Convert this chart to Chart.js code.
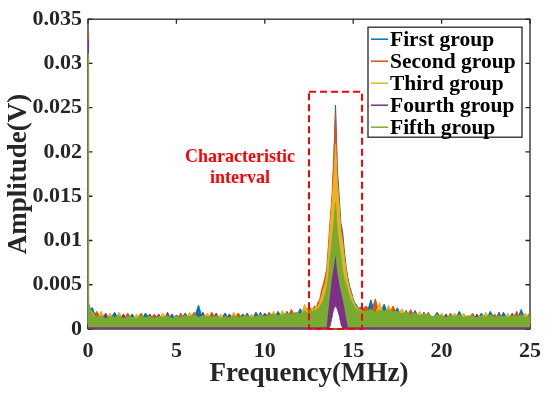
<!DOCTYPE html>
<html>
<head>
    <title>Amplitude spectrum</title>
    <script src="https://cdn.jsdelivr.net/npm/chart.js"></script>
    <style>
        html, body { margin: 0; padding: 0; background: #fff; }
    </style>
</head>
<body>
    <canvas id="spectrum" width="550" height="396"></canvas>
    <script>
        // Frequency grid (MHz), finer around the 14 MHz peak
        const freq = [
            0, 0.03, 0.25, 0.5, 0.75, 1, 1.25, 1.5, 1.75, 2, 2.25, 2.5, 2.75, 3, 3.25, 3.5, 3.75, 4, 4.25, 4.5,
            4.75, 5, 5.25, 5.5, 5.75, 6, 6.25, 6.5, 6.75, 7, 7.25, 7.5, 7.75, 8, 8.25, 8.5, 8.75, 9, 9.25, 9.5,
            9.75, 10, 10.25, 10.5, 10.75, 11, 11.25, 11.5, 11.75, 12, 12.25, 12.5,
            12.6, 12.7, 12.8, 12.9, 13, 13.1, 13.2, 13.3, 13.4, 13.5, 13.6, 13.7, 13.8, 13.9, 14, 14.1, 14.2, 14.3,
            14.4, 14.5, 14.6, 14.7, 14.8, 14.9, 15, 15.1, 15.2, 15.3, 15.4, 15.5,
            15.75, 16, 16.25, 16.5, 16.75, 17, 17.25, 17.5, 17.75, 18, 18.25, 18.5, 18.75, 19, 19.25, 19.5, 19.75,
            20, 20.25, 20.5, 20.75, 21, 21.25, 21.5, 21.75, 22, 22.25, 22.5, 22.75, 23, 23.25, 23.5, 23.75, 24,
            24.25, 24.5, 24.75, 25
        ];

        // Upper envelope of each group (mV)
        const firstGroup = [
            29.0, 2.2, 2.4, 1.0, 1.1, 0.9, 1.0, 1.9, 1.1, 0.9, 1.0, 1.7, 0.9, 1.0, 1.8, 1.1, 0.9, 1.0, 1.1, 0.9,
            1.7, 1.0, 1.1, 1.8, 1.0, 1.2, 2.7, 1.0, 1.1, 0.9, 1.0, 1.1, 1.8, 1.0, 0.9, 1.1, 1.7, 1.2, 1.0, 1.9,
            1.1, 1.8, 1.2, 1.1, 2.0, 1.2, 1.1, 1.3, 1.2, 2.3, 1.4, 1.3,
            1.8, 2.2, 1.9, 2.4, 2.1, 2.6, 3.0, 3.6, 4.4, 5.5, 8.0, 11.0, 14.0, 18.5, 25.3, 18.2, 15.2, 12.0,
            11.0, 8.8, 7.0, 5.8, 4.8, 4.2, 3.4, 2.9, 2.7, 2.2, 2.5, 2.1,
            1.6, 3.3, 1.5, 1.7, 2.8, 1.6, 1.5, 2.4, 1.3, 1.4, 1.2, 2.1, 1.1, 1.2, 1.0, 1.1, 1.9,
            1.0, 1.1, 0.9, 1.0, 2.0, 1.0, 0.9, 1.1, 1.0, 1.8, 0.9, 2.0, 1.1, 0.9, 1.9, 1.0, 1.1,
            0.9, 2.2, 1.0, 1.1
        ];
        const secondGroup = [
            33.7, 3.0, 1.2, 2.0, 1.0, 1.1, 0.9, 1.0, 1.1, 1.0, 1.8, 0.9, 1.0, 1.8, 0.9, 1.0, 1.7, 1.1, 0.9, 1.0,
            1.1, 1.0, 1.8, 0.9, 1.1, 1.9, 1.2, 1.0, 0.9, 1.9, 1.1, 1.0, 0.9, 1.1, 1.0, 1.8, 1.1, 1.0, 0.9, 1.2,
            1.0, 1.1, 1.9, 1.2, 1.1, 1.3, 1.2, 2.2, 1.3, 1.2, 1.5, 2.6,
            2.3, 2.0, 2.6, 2.2, 3.0, 3.3, 4.3, 5.0, 5.8, 6.8, 9.5, 12.5, 15.0, 19.5, 24.4, 17.5, 14.5, 11.5,
            10.2, 8.2, 6.5, 5.3, 4.4, 3.7, 3.1, 2.6, 2.3, 2.4, 2.0, 2.2,
            2.6, 1.7, 3.4, 1.6, 1.7, 1.5, 2.6, 1.6, 1.4, 1.3, 2.2, 1.2, 1.1, 1.2, 1.9, 1.0, 1.1,
            1.0, 0.9, 1.8, 1.0, 1.1, 0.9, 1.0, 1.8, 0.9, 1.0, 1.1, 0.9, 1.7, 1.0, 0.9, 1.1, 1.0,
            2.0, 0.9, 1.0, 1.9
        ];
        const thirdGroup = [
            30.0, 2.5, 1.9, 1.1, 2.0, 1.0, 1.8, 0.9, 1.9, 1.1, 0.9, 1.0, 1.7, 1.1, 1.0, 0.9, 1.0, 1.1, 1.8, 1.0,
            0.9, 1.1, 1.0, 0.9, 1.9, 1.1, 1.0, 1.2, 1.8, 1.0, 0.9, 1.7, 1.0, 1.1, 1.9, 1.0, 0.9, 1.1, 1.7, 1.0,
            1.2, 1.1, 1.0, 2.0, 1.2, 2.1, 1.3, 1.2, 1.4, 1.3, 2.8, 1.6,
            2.0, 2.4, 2.1, 2.7, 2.5, 3.0, 3.6, 4.4, 5.0, 6.0, 8.5, 11.5, 14.2, 17.0, 20.9, 16.5, 14.0, 11.0,
            9.8, 8.0, 6.6, 5.4, 4.5, 3.9, 3.2, 2.7, 2.5, 2.1, 2.3, 2.0,
            1.7, 1.8, 1.6, 3.0, 1.5, 2.7, 1.6, 1.5, 2.3, 1.4, 1.3, 1.2, 2.0, 1.1, 1.2, 1.0, 1.1,
            1.8, 1.0, 1.1, 1.8, 1.0, 1.8, 1.1, 0.9, 1.0, 1.1, 1.9, 1.0, 0.9, 1.1, 1.0, 1.8, 0.9,
            1.0, 1.1, 1.8, 1.0
        ];
        const fourthGroup = [
            32.7, 1.6, 1.0, 0.8, 0.9, 1.8, 0.8, 0.9, 0.7, 1.7, 0.8, 0.9, 0.8, 0.7, 0.9, 1.7, 0.8, 1.7, 0.7, 1.9,
            0.8, 1.6, 0.9, 0.8, 0.7, 0.9, 0.8, 1.9, 0.8, 0.9, 1.8, 0.8, 0.9, 1.7, 0.8, 0.7, 0.9, 1.8, 0.9, 0.8,
            1.9, 0.9, 0.8, 1.0, 0.9, 0.8, 2.0, 0.9, 1.0, 0.9, 1.1, 1.0,
            1.2, 0.9, 1.3, 1.0, 1.0, 1.2, 1.2, 1.4, 1.6, 1.9, 3.0, 4.5, 6.0, 7.2, 8.5, 6.6, 5.5, 4.5,
            3.8, 2.8, 2.0, 1.5, 1.3, 1.0, 0.9, 0.8, 0.9, 0.7, 0.8, 1.0,
            1.0, 0.9, 1.1, 0.8, 0.9, 1.0, 0.8, 0.9, 1.0, 2.1, 0.8, 0.9, 0.8, 1.9, 0.9, 0.8, 0.7,
            0.9, 1.7, 0.8, 0.9, 0.7, 0.8, 0.9, 0.8, 1.7, 0.7, 0.8, 0.9, 0.8, 1.9, 0.7, 0.9, 1.8,
            0.8, 0.9, 0.7, 0.8
        ];
        const fifthGroup = [
            31.1, 2.6, 1.6, 1.3, 1.5, 1.2, 1.4, 1.3, 1.5, 1.2, 1.4, 1.3, 1.2, 1.5, 1.3, 1.4, 1.2, 1.4, 1.3, 1.5,
            1.2, 1.4, 1.3, 1.5, 1.4, 1.6, 1.3, 1.5, 1.4, 1.3, 1.5, 1.2, 1.4, 1.3, 1.5, 1.3, 1.4, 1.5, 1.3, 1.4,
            1.6, 1.4, 1.5, 1.7, 1.5, 1.6, 1.8, 1.6, 1.9, 1.7, 2.0, 1.8,
            2.1, 1.9, 2.2, 2.0, 2.3, 2.5, 2.8, 3.2, 3.8, 4.5, 5.8, 8.0, 9.8, 11.8, 14.2, 11.2, 9.5, 8.2,
            6.5, 5.5, 4.9, 4.2, 3.5, 3.1, 2.7, 2.4, 2.2, 2.0, 2.2, 1.9,
            2.0, 2.2, 1.9, 2.1, 2.0, 2.2, 1.9, 2.0, 1.7, 1.9, 1.6, 1.8, 1.5, 1.7, 1.6, 1.4, 1.6,
            1.5, 1.3, 1.5, 1.4, 1.6, 1.3, 1.5, 1.4, 1.3, 1.5, 1.4, 1.6, 1.3, 1.5, 1.4, 1.3, 1.5,
            1.4, 1.6, 1.3, 1.5
        ];

        // Lower envelopes (mV): the signal floor lifts under the peak
        const lowFreq   = [0, 13.5, 13.6, 13.7, 13.8, 13.9, 14, 14.1, 14.2, 14.3, 14.4, 14.5, 14.6, 14.7, 25];
        const peakFloor = [0, 0, 0, 0.3, 1.2, 2.2, 2.6, 2.2, 1.5, 0.5, 0, 0, 0, 0, 0];
        const fifthFloor = [0.2, 0.2, 2.2, 4.0, 5.8, 7.0, 8.3, 6.4, 5.2, 4.2, 3.4, 2.4, 1.2, 0.2, 0.2];

        const groupNames  = ['First group', 'Second group', 'Third group', 'Fourth group', 'Fifth group'];
        const groupColors = ['#0072BD', '#D95319', '#EDB120', '#7E2F8E', '#77AC30'];
        const groupValues = [firstGroup, secondGroup, thirdGroup, fourthGroup, fifthGroup];
        const groupFloors = [peakFloor, peakFloor, peakFloor, peakFloor, fifthFloor];

        const yTickLabels = ['0', '0.005', '0.01', '0.015', '0.02', '0.025', '0.03', '0.035'];

        // Dashed "characteristic interval" box: MHz from, MHz to, top (mV)
        const intervalBox = [12.5, 15.5, 26.8];
        const noteText = ['Characteristic', 'interval'];
        const noteAt = [8.6, 19.4];

        const serif = '"Liberation Serif", "Times New Roman", serif';

        const datasets = [];
        groupNames.forEach((name, i) => {
            datasets.push({
                label: name + ' floor',
                data: lowFreq.map((f, j) => ({ x: f, y: groupFloors[i][j] })),
                borderWidth: 0,
                borderColor: 'rgba(0,0,0,0)',
                fill: false,
                order: 10
            });
            datasets.push({
                label: name,
                data: freq.map((f, j) => ({ x: f, y: groupValues[i][j] })),
                borderColor: groupColors[i],
                backgroundColor: groupColors[i],
                borderWidth: 1,
                fill: '-1',
                order: 5 - i
            });
        });

        const axisBox = {
            id: 'axisBox',
            beforeDatasetsDraw(chart) {
                const { ctx, chartArea: a, scales: { x, y } } = chart;
                ctx.save();
                ctx.strokeStyle = '#262626';
                ctx.lineWidth = 1.3;
                ctx.strokeRect(a.left, a.top, a.right - a.left, a.bottom - a.top);
                ctx.beginPath();
                x.ticks.forEach(t => {
                    const px = x.getPixelForValue(t.value);
                    ctx.moveTo(px, a.bottom); ctx.lineTo(px, a.bottom - 4.5);
                    ctx.moveTo(px, a.top); ctx.lineTo(px, a.top + 4.5);
                });
                y.ticks.forEach(t => {
                    const py = y.getPixelForValue(t.value);
                    ctx.moveTo(a.left, py); ctx.lineTo(a.left + 4.5, py);
                    ctx.moveTo(a.right, py); ctx.lineTo(a.right - 4.5, py);
                });
                ctx.stroke();
                ctx.restore();
            }
        };

        const extras = {
            id: 'extras',
            afterDatasetsDraw(chart) {
                const { ctx, scales: { x, y } } = chart;
                ctx.save();
                // dashed interval box
                const x1 = x.getPixelForValue(intervalBox[0]);
                const x2 = x.getPixelForValue(intervalBox[1]);
                const y1 = y.getPixelForValue(intervalBox[2]);
                const y2 = y.getPixelForValue(0);
                ctx.strokeStyle = '#FF0000';
                ctx.lineWidth = 2;
                ctx.setLineDash([7, 4]);
                ctx.strokeRect(x1, y1, x2 - x1, y2 - y1);
                ctx.setLineDash([]);
                // note
                ctx.fillStyle = '#FF0000';
                ctx.font = 'bold 18px ' + serif;
                ctx.textAlign = 'center';
                ctx.textBaseline = 'middle';
                const nx = x.getPixelForValue(noteAt[0]);
                const ny = y.getPixelForValue(noteAt[1]);
                noteText.forEach((line, k) => ctx.fillText(line, nx, ny + k * 21));
                ctx.restore();
            },
            afterDraw(chart) {
                const { ctx, chartArea: a } = chart;
                const bx = a.right - 162, by = a.top + 8, bw = 154, bh = 110;
                ctx.save();
                ctx.fillStyle = '#fff';
                ctx.fillRect(bx, by, bw, bh);
                ctx.strokeStyle = '#262626';
                ctx.lineWidth = 1.3;
                ctx.strokeRect(bx, by, bw, bh);
                ctx.font = 'bold 21.5px ' + serif;
                ctx.textBaseline = 'middle';
                ctx.textAlign = 'left';
                groupNames.forEach((name, i) => {
                    const ry = by + 12 + i * 22;
                    ctx.strokeStyle = groupColors[i];
                    ctx.lineWidth = 1.5;
                    ctx.beginPath();
                    ctx.moveTo(bx + 3, ry);
                    ctx.lineTo(bx + 20, ry);
                    ctx.stroke();
                    ctx.fillStyle = '#000';
                    ctx.fillText(name, bx + 22, ry + 1);
                });
                ctx.restore();
            }
        };

        new Chart(document.getElementById('spectrum'), {
            type: 'line',
            data: { datasets: datasets },
            options: {
                responsive: false,
                animation: false,
                layout: { padding: { left: 0, right: 15, top: 15, bottom: 0 } },
                elements: { point: { radius: 0 }, line: { tension: 0 } },
                plugins: { legend: { display: false }, tooltip: { enabled: false } },
                scales: {
                    x: {
                        type: 'linear', min: 0, max: 25,
                        afterFit: s => { s.height = 67; },
                        grid: { display: false, drawTicks: false },
                        border: { display: false },
                        ticks: { stepSize: 5, padding: 9, maxRotation: 0, color: '#262626',
                                 font: { family: serif, size: 22, weight: 'bold' } },
                        title: { display: true, text: 'Frequency(MHz)', color: '#262626',
                                 font: { family: serif, size: 27, weight: 'bold' },
                                 padding: { top: 0, bottom: 6 } }
                    },
                    y: {
                        type: 'linear', min: 0, max: 35,
                        afterFit: s => { s.width = 88; },
                        grid: { display: false, drawTicks: false },
                        border: { display: false },
                        ticks: { stepSize: 5, padding: 6, color: '#262626',
                                 font: { family: serif, size: 22, weight: 'bold' },
                                 callback: v => yTickLabels[Math.round(v / 5)] },
                        title: { display: true, text: 'Amplitude(V)', color: '#262626',
                                 font: { family: serif, size: 27, weight: 'bold' },
                                 padding: { top: 3, bottom: 0 } }
                    }
                }
            },
            plugins: [axisBox, extras]
        });
    </script>
</body>
</html>
